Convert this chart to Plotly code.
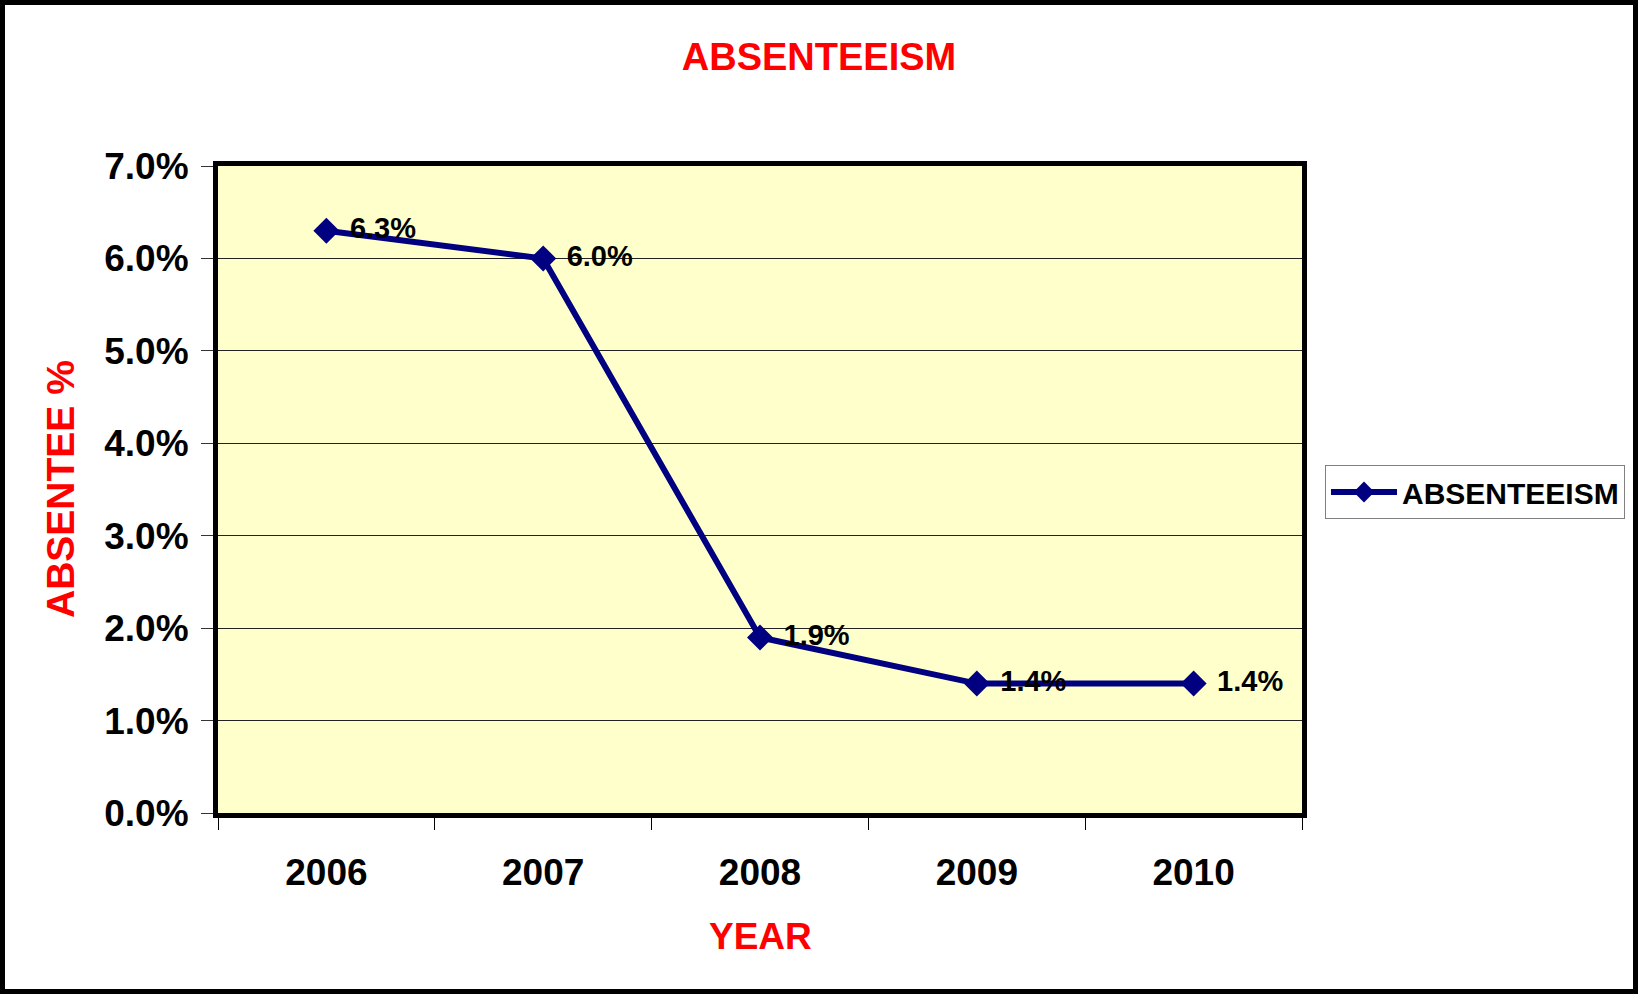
import plotly.graph_objects as go

years = ["2006", "2007", "2008", "2009", "2010"]
absenteeism = [0.063, 0.060, 0.019, 0.014, 0.014]
labels = ["6.3%", "6.0%", "1.9%", "1.4%", "1.4%"]

FONT = "Liberation Sans, Arial, Helvetica, sans-serif"
NAVY = "#000080"

fig = go.Figure()
fig.add_trace(go.Scatter(
    x=years, y=absenteeism, mode="lines+markers",
    name="ABSENTEEISM",
    line=dict(color=NAVY, width=6),
    marker=dict(symbol="diamond", size=20, color=NAVY),
    cliponaxis=False,
))
# data labels (text placed beside a transparent, wider marker for spacing)
fig.add_trace(go.Scatter(
    x=years, y=absenteeism, mode="markers+text",
    text=labels, textposition="middle right",
    textfont=dict(family=FONT, size=29, color="black", weight="bold"),
    marker=dict(size=36, color="rgba(0,0,0,0)"),
    showlegend=False, hoverinfo="skip", cliponaxis=False,
))

W, H = 1638, 994
L, R, T, B = 218, 336, 166, 181
pw, ph = W - L - R, H - T - B

def px(x):
    return (x - L) / pw

def py(y):
    return (H - B - y) / ph

fig.update_layout(
    width=W, height=H,
    margin=dict(l=L, r=R, t=T, b=B),
    paper_bgcolor="white",
    plot_bgcolor="#FFFFCC",
    font=dict(family=FONT, color="black"),
    title=dict(text="ABSENTEEISM", x=0.5, xref="container", xanchor="center",
               y=1 - 57 / H, yref="container", yanchor="middle",
               font=dict(family=FONT, size=38, color="#FF0000", weight="bold")),
    showlegend=True,
    legend=dict(x=px(1325), y=py(465), xanchor="left", yanchor="top",
                bgcolor="white", bordercolor="#808080", borderwidth=1,
                font=dict(family=FONT, size=30, color="black", weight="bold"),
                itemwidth=66),
    xaxis=dict(type="category", range=[-0.5, 4.5], tickson="boundaries",
               ticks="outside", ticklen=12,
               tickcolor="black", tickwidth=1, showline=True, linecolor="black",
               linewidth=5, mirror=True, showgrid=False,
               tickfont=dict(family=FONT, size=37, color="black", weight="bold"),
               ticklabelstandoff=23, fixedrange=True),
    yaxis=dict(range=[0, 0.07], dtick=0.01, tickformat=".1%", ticks="outside",
               ticklen=12, tickcolor="#333", tickwidth=1, showline=True,
               linecolor="black", linewidth=5, mirror=True, showgrid=True,
               gridcolor="#222", gridwidth=1, zeroline=False,
               tickfont=dict(family=FONT, size=37, color="black", weight="bold"),
               ticklabelstandoff=5, fixedrange=True),
    annotations=[
        dict(text="YEAR", x=px(760), y=py(936), xref="paper", yref="paper",
             xanchor="center", yanchor="middle", showarrow=False,
             font=dict(family=FONT, size=37, color="#FF0000", weight="bold")),
        dict(text="ABSENTEE %", x=px(60), y=py(489), xref="paper", yref="paper",
             xanchor="center", yanchor="middle", showarrow=False, textangle=-90,
             font=dict(family=FONT, size=39, color="#FF0000", weight="bold")),
    ],
    shapes=[
        dict(type="rect", xref="paper", yref="paper",
             x0=px(2.5), x1=px(W - 2.5), y0=py(H - 2.5), y1=py(2.5),
             line=dict(color="black", width=5), fillcolor="rgba(0,0,0,0)",
             layer="above"),
    ],
)

fig.write_html("out.html", config={"displayModeBar": False})

with open("out.html", "r", encoding="utf-8") as f:
    html = f.read()
html = html.replace("<head>", "<head><style>html,body{margin:0;padding:0;overflow:hidden;}</style>", 1)
with open("out.html", "w", encoding="utf-8") as f:
    f.write(html)
